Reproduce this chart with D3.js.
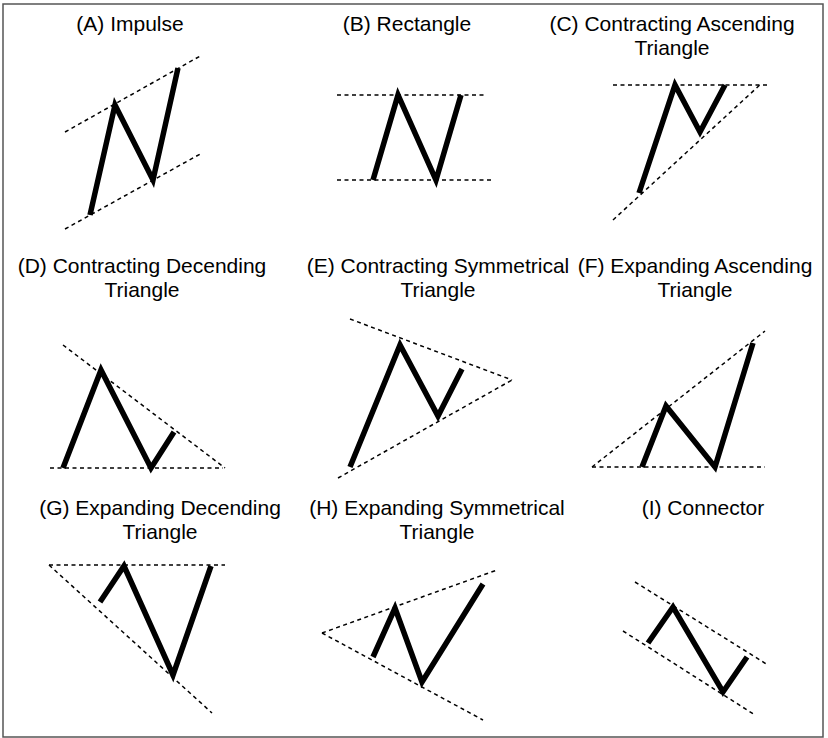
<!DOCTYPE html>
<html>
<head>
<meta charset="utf-8">
<script src="https://cdnjs.cloudflare.com/ajax/libs/d3/7.8.5/d3.min.js"></script>
<style>
  body { margin: 0; background: #fff; }
  text { font-family: "Liberation Sans", Arial, Helvetica, sans-serif; }
</style>
</head>
<body>
<div id="chart"></div>
<script>
var width = 828;
var height = 738;

// Panel titles (lines)
var titles = [
  ["(A) Impulse"],
  ["(B) Rectangle"],
  ["(C) Contracting Ascending", "Triangle"],
  ["(D) Contracting Decending", "Triangle"],
  ["(E) Contracting Symmetrical", "Triangle"],
  ["(F) Expanding Ascending", "Triangle"],
  ["(G) Expanding Decending", "Triangle"],
  ["(H) Expanding Symmetrical", "Triangle"],
  ["(I) Connector"]
];

// Wave points per panel: [time, price] in panel units (x 0-276, y 0-240, y up)
var waves = [
  [[90, 25], [115, 135], [153, 60], [178, 172]],
  [[97, 60], [122, 145], [160, 60], [185, 145]],
  [[87, 47], [123, 155], [148, 108], [173, 155]],
  [[63, 14], [101, 112], [151, 14], [174, 50]],
  [[74, 15], [124, 137], [162, 66], [186, 113]],
  [[90, 15], [114, 76], [163, 15], [201, 139]],
  [[100, 122], [124, 158], [173, 49], [211, 158]],
  [[97, 67], [119, 116], [146, 42], [207, 140]],
  [[96, 81], [121, 117], [171, 32], [195, 67]]
];

// Upper and lower trend lines per panel: [[x1, y1], [x2, y2]]
var upperLines = [
  [[65, 108], [202, 185]],
  [[61, 145], [209, 145]],
  [[61, 155], [218, 155]],
  [[63, 137], [225, 14]],
  [[74, 163], [236, 102]],
  [[40, 15], [213, 151]],
  [[49, 159], [225, 159]],
  [[46, 91], [221, 154]],
  [[83, 142], [216, 59]]
];
var lowerLines = [
  [[65, 11], [202, 87]],
  [[61, 60], [218, 60]],
  [[61, 20], [210, 157]],
  [[50, 14], [223, 14]],
  [[62, 4], [236, 102]],
  [[40, 15], [213, 15]],
  [[49, 159], [212, 11]],
  [[46, 91], [207, 4]],
  [[71, 93], [203, 9]]
];

// Layout
var colLeft = [0, 276, 552];
var rowTop = [0, 242, 484];
var cellW = 276, cellH = 240;
var titleCenter = [130, 131, 120, 142, 162, 143, 160, 161, 151];

var svg = d3.select("#chart")
  .append("svg")
  .attr("width", width)
  .attr("height", height);

svg.append("rect")
  .attr("x", 3)
  .attr("y", 4)
  .attr("width", 820)
  .attr("height", 733)
  .attr("fill", "none")
  .attr("stroke", "#555")
  .attr("stroke-width", 1.5);

titles.forEach(function(t, i) {
  var x0 = colLeft[i % 3];
  var y0 = rowTop[Math.floor(i / 3)];

  var x = d3.scaleLinear().domain([0, 276]).range([x0, x0 + cellW]);
  var y = d3.scaleLinear().domain([0, 240]).range([y0 + cellH, y0]);
  var line = d3.line()
    .x(function(d) { return x(d[0]); })
    .y(function(d) { return y(d[1]); });

  var g = svg.append("g").attr("class", "panel");

  // title
  g.selectAll("text.title")
    .data(t)
    .enter().append("text")
      .attr("class", "title")
      .attr("x", x0 + titleCenter[i])
      .attr("y", function(d, j) { return y0 + 31 + j * 24; })
      .attr("text-anchor", "middle")
      .attr("font-size", "21px")
      .attr("fill", "#000")
      .text(function(d) { return d; });

  // trend lines
  g.selectAll("path.trend")
    .data([upperLines[i], lowerLines[i]])
    .enter().append("path")
      .attr("class", "trend")
      .attr("d", line)
      .attr("fill", "none")
      .attr("stroke", "#000")
      .attr("stroke-width", 1.5)
      .attr("stroke-dasharray", "4,3.5");

  // wave
  g.append("path")
    .attr("class", "wave")
    .attr("d", line(waves[i]))
    .attr("fill", "none")
    .attr("stroke", "#000")
    .attr("stroke-width", 5.5)
    .attr("stroke-linejoin", "miter");
});
</script>
</body>
</html>
